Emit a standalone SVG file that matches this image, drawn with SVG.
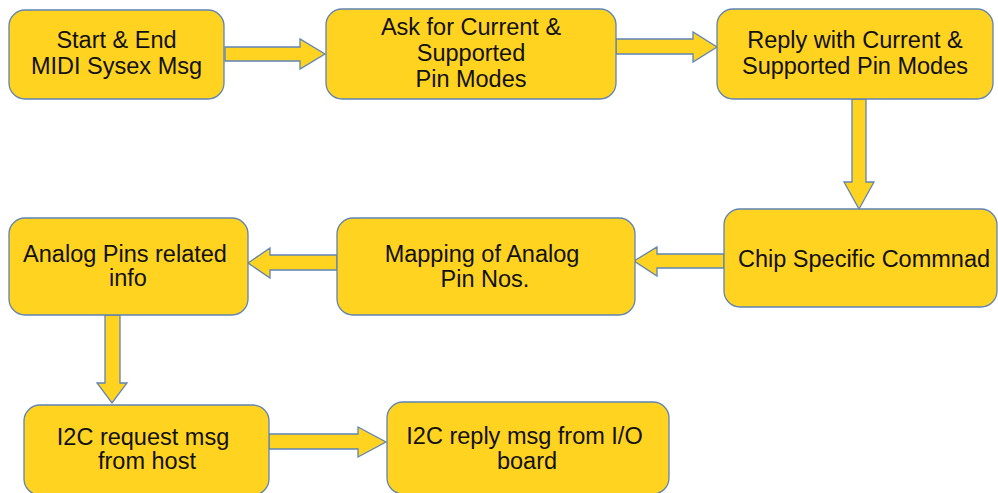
<svg xmlns="http://www.w3.org/2000/svg" width="998" height="493" viewBox="0 0 998 493">
<style>
.box{fill:#ffd320;stroke:#5f84b4;stroke-width:1.3}
.arr{fill:#ffd320;stroke:#5f84b4;stroke-width:1.3;stroke-linejoin:miter}
text{font-family:"Liberation Sans",Arial,sans-serif;font-size:23.5px;fill:#111111;text-anchor:middle}
</style>
<rect width="998" height="493" fill="#ffffff"/>
<g id="connectors">
<polygon class="arr" points="225,47 300,47 300,39 325,54 300,69 300,61 225,61"/>
<polygon class="arr" points="616,39 693,39 693,32 717,47 693,62 693,54 616,54"/>
<polygon class="arr" points="852,99 852,182 844,182 859,209 874,182 866,182 866,99"/>
<polygon class="arr" points="724,254 657,254 657,247 634,261 657,276 657,268 724,268"/>
<polygon class="arr" points="337,255 270,255 270,248 248,263 270,278 270,270 337,270"/>
<polygon class="arr" points="105,315 105,383 97,383 112,403 127,383 120,383 120,315"/>
<polygon class="arr" points="269,434 358,434 358,427 386,442 358,457 358,449 269,449"/>
</g>
<g id="n1"><rect class="box" x="9" y="10" width="215" height="89" rx="16"/><text x="116.5" y="48">Start &amp; End</text><text x="116.5" y="74">MIDI Sysex Msg</text></g>
<g id="n2"><rect class="box" x="326" y="9" width="290" height="90" rx="16"/><text x="471" y="35">Ask for Current &amp;</text><text x="471" y="61">Supported</text><text x="471" y="87">Pin Modes</text></g>
<g id="n3"><rect class="box" x="717" y="9" width="276" height="90" rx="16"/><text x="855" y="48">Reply with Current &amp;</text><text x="855" y="74">Supported Pin Modes</text></g>
<g id="n4"><rect class="box" x="724" y="209" width="273" height="98" rx="16"/><text x="864" y="267">Chip Specific Commnad</text></g>
<g id="n5"><rect class="box" x="337" y="218" width="298" height="97" rx="16"/><text x="482" y="262">Mapping of Analog</text><text x="485" y="287">Pin Nos.</text></g>
<g id="n6"><rect class="box" x="9" y="218" width="239" height="97" rx="16"/><text x="125" y="262">Analog Pins related</text><text x="128" y="286">info</text></g>
<g id="n7"><rect class="box" x="24" y="405" width="245" height="90" rx="16"/><text x="143" y="445">I2C request msg</text><text x="147" y="469">from host</text></g>
<g id="n8"><rect class="box" x="387" y="402" width="282" height="92" rx="16"/><text x="524.5" y="444">I2C reply msg from I/O</text><text x="527" y="469">board</text></g>
</svg>
